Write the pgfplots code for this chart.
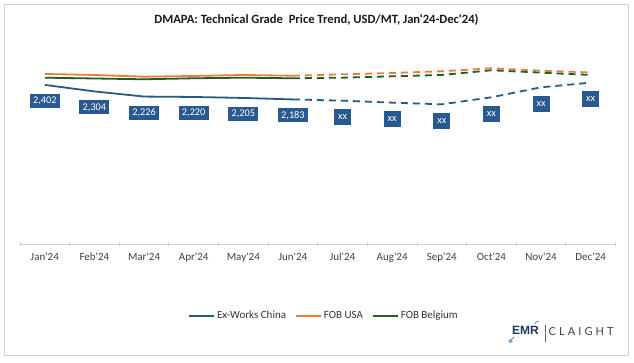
\documentclass[border=0pt]{standalone}
\usepackage{pgfplots}
\pgfplotsset{compat=1.18}
\usepackage{fontspec}
\setmainfont{Carlito}[Ligatures=TeXOff]
\newfontfamily\logofont{Lato}[LetterSpace=28]
\newfontfamily\emrfont{Liberation Sans}
\definecolor{cnblue}{RGB}{38,92,128}
\definecolor{usorange}{RGB}{237,125,49}
\definecolor{begreen}{RGB}{30,95,38}
\definecolor{boxblue}{RGB}{40,90,145}
\definecolor{navy}{RGB}{31,56,100}
\definecolor{logoblue}{RGB}{60,130,200}
\tikzset{
  numlabel/.style={fill=boxblue, text=white, font=\fontsize{10.3}{12}\selectfont, inner xsep=3.3pt, inner ysep=0pt, minimum height=14pt, anchor=center},
  xxlabel/.style={fill=boxblue, text=white, font=\fontsize{10.3}{12}\selectfont, inner sep=0pt, minimum width=17pt, minimum height=16.5pt, anchor=center},
}
\begin{document}
\begin{tikzpicture}
\path[use as bounding box] (0pt,0pt) rectangle (634pt,362pt);
\draw[black!18, line width=0.8pt] (4pt,7pt) rectangle (628pt,358pt);
\node[font=\bfseries\fontsize{12.6}{14}\selectfont, text=black!90] at (316.5pt,342pt) {DMAPA: Technical Grade\ \ Price Trend, USD/MT, Jan'24-Dec'24)};
\begin{axis}[
  at={(20pt,118pt)}, anchor=south west, scale only axis,
  width=595.5pt, height=198.7pt,
  xmin=-0.5, xmax=11.5, ymin=0, ymax=3000,
  axis x line=bottom, axis y line=none,
  x axis line style={-, draw=black!18, line width=0.8pt},
  xtick={0,1,2,3,4,5,6,7,8,9,10,11},
  xticklabels={Jan'24,Feb'24,Mar'24,Apr'24,May'24,Jun'24,Jul'24,Aug'24,Sep'24,Oct'24,Nov'24,Dec'24},
  major tick length=0pt,
  extra x ticks={-0.5,0.5,1.5,2.5,3.5,4.5,5.5,6.5,7.5,8.5,9.5,10.5,11.5},
  extra x tick labels={},
  extra x tick style={tick align=center, major tick length=4pt, tick style={draw=black!18, line width=0.8pt}},
  xticklabel style={font=\fontsize{11}{13}\selectfont, text=black!75, anchor=base, yshift=-16.5pt},
  clip=false,
  legend columns=3,
  legend style={at={(0.5105,-0.361)}, anchor=center, draw=none, fill=none,
    font=\fontsize{11}{13}\selectfont, text=black!80,
    /tikz/every even column/.append style={column sep=7pt}},
  legend image code/.code={\draw[#1, solid] (0pt,0pt) -- (25pt,0pt);},
]
% solid segments (actual)
\addplot[cnblue, line width=1.8pt, mark=none] coordinates {(0,2402)(1,2304)(2,2226)(3,2220)(4,2205)(5,2183)};
\addlegendentry{Ex-Works China}
\addplot[usorange, line width=1.8pt, mark=none] coordinates {(0,2567)(1,2552)(2,2526)(3,2537)(4,2552)(5,2541)};
\addlegendentry{FOB USA}
\addplot[begreen, line width=1.8pt, mark=none] coordinates {(0,2511)(1,2499)(2,2487)(3,2502)(4,2511)(5,2502)};
\addlegendentry{FOB Belgium}
% dashed segments (forecast)
\addplot[cnblue, line width=1.8pt, mark=none, dash pattern=on 7pt off 5pt, forget plot] coordinates {(5,2183)(6,2164)(7,2134)(8,2109)(9,2215)(10,2366)(11,2436)};
\addplot[usorange, line width=1.8pt, mark=none, dash pattern=on 7pt off 5pt, forget plot] coordinates {(5,2541)(6,2562)(7,2582)(8,2608)(9,2653)(10,2617)(11,2590)};
\addplot[begreen, line width=1.8pt, mark=none, dash pattern=on 7pt off 5pt, forget plot] coordinates {(5,2502)(6,2511)(7,2532)(8,2552)(9,2623)(10,2587)(11,2552)};
% data labels
\addplot[draw=none, mark=none, forget plot, nodes near coords, point meta=explicit symbolic,
  every node near coord/.append style={numlabel, yshift=-16pt}]
  coordinates {(0,2402)[2,402] (1,2304)[2,304] (2,2226)[2,226] (3,2220)[2,220] (4,2205)[2,205] (5,2183)[2,183]};
\addplot[draw=none, mark=none, forget plot, nodes near coords, point meta=explicit symbolic,
  every node near coord/.append style={xxlabel, yshift=-16.5pt}]
  coordinates {(6,2164)[xx] (7,2134)[xx] (8,2109)[xx] (9,2215)[xx] (10,2366)[xx] (11,2436)[xx]};
\end{axis}
% logo
\node[anchor=west, inner sep=0pt, font=\emrfont\bfseries\fontsize{12}{12}\selectfont, text=navy] at (512pt,32pt) {EMR};
\draw[logoblue, line width=0.8pt] (510.5pt,21pt) circle (1.6pt);
\draw[logoblue, line width=0.7pt] (511.5pt,22.5pt) -- (514pt,25pt);
\draw[logoblue, line width=0.7pt] (535pt,38pt) arc (180:60:2.5pt);
\draw[black!60, line width=0.7pt] (545pt,20.5pt) -- (545pt,37.5pt);
\node[anchor=west, inner sep=0pt, font=\logofont\fontsize{11}{11}\selectfont, text=black!75] at (548.5pt,30.5pt) {CLAIGHT};
\end{tikzpicture}
\end{document}
